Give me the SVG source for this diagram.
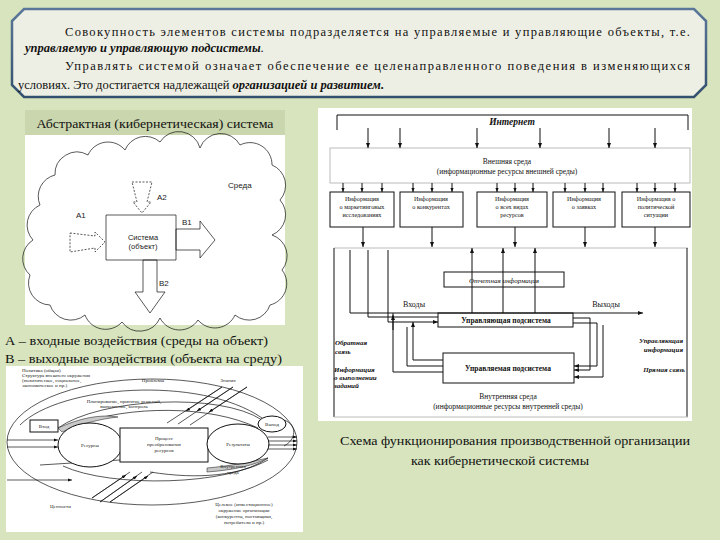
<svg xmlns="http://www.w3.org/2000/svg" width="720" height="540" viewBox="0 0 720 540">
<defs>
<style>
.s{font-family:"Liberation Serif","Times New Roman",serif;fill:#111}
.ss{font-family:"Liberation Sans",Arial,sans-serif;fill:#222}
.bi{font-weight:bold;font-style:italic}
.ln{stroke:#111;stroke-width:1;fill:none}
.lt{stroke:#111;stroke-width:0.7;fill:none}
.fa{stroke:#bbb;stroke-width:1;fill:none}
.box{fill:#fff;stroke:#111;stroke-width:1}
.tiny{font-family:"Liberation Serif",serif;font-size:5px;fill:#222}
</style>
<marker id="ah" viewBox="0 0 10 10" refX="10" refY="5" markerWidth="5" markerHeight="5" orient="auto" markerUnits="userSpaceOnUse"><path d="M0,1 L10,5 L0,9 z" fill="#111"/></marker>
<marker id="ahs" viewBox="0 0 10 10" refX="10" refY="5" markerWidth="4" markerHeight="4" orient="auto" markerUnits="userSpaceOnUse"><path d="M0,1 L10,5 L0,9 z" fill="#111"/></marker>
<linearGradient id="bd" x1="0" y1="0" x2="0" y2="1"><stop offset="0" stop-color="#5a7799"/><stop offset="1" stop-color="#34506f"/></linearGradient>
</defs>
<rect width="720" height="540" fill="#d7e4bd"/>

<g id="intro">
<polygon points="24,9 694,9 706,21 706,85 694,97 24,97 12,85 12,21" fill="#eeefe4" stroke="url(#bd)" stroke-width="2.5"/>
<text class="s" x="65" y="36" font-size="12.5" textLength="625" lengthAdjust="spacing">Совокупность элементов системы подразделяется на управляемые и управляющие объекты, т.е.</text>
<text class="s" x="25" y="52" font-size="12.5"><tspan class="bi">управляемую и управляющую подсистемы</tspan>.</text>
<text class="s" x="65" y="70" font-size="12.5" textLength="625" lengthAdjust="spacing">Управлять системой означает обеспечение ее целенаправленного поведения в изменяющихся</text>
<text class="s" x="18" y="89" font-size="12.5">условиях. Это достигается надлежащей <tspan class="bi">организацией и развитием.</tspan></text>
</g>

<g id="abstract-system">
<rect x="25" y="110" width="260" height="25" fill="#cad6ad"/>
<text class="s" x="155" y="128" font-size="13" text-anchor="middle" fill="#333" textLength="237" lengthAdjust="spacingAndGlyphs">Абстрактная (кибернетическая) система</text>
<rect x="25" y="135" width="260" height="190" fill="#fff"/>
<path class="lt" d="M33,240 A22,22 0 0 1 40,205 A22,22 0 0 1 55,175 A22,22 0 0 1 88,155 A22,22 0 0 1 125,150 A22,22 0 0 1 160,142 A22,22 0 0 1 200,148 A22,22 0 0 1 240,145 A22,22 0 0 1 272,165 A22,22 0 0 1 280,200 A22,22 0 0 1 272,235 A22,22 0 0 1 282,270 A22,22 0 0 1 270,305 A22,22 0 0 1 235,315 A22,22 0 0 1 198,320 A22,22 0 0 1 160,318 A22,22 0 0 1 122,322 A22,22 0 0 1 85,315 A22,22 0 0 1 50,305 A22,22 0 0 1 30,275 A22,22 0 0 1 33,240 Z"/>
<path class="lt" d="M106,215 L106,260 L176,260 L176,215 Z" fill="#fff"/>
<text class="ss" x="143" y="240" font-size="7.5" text-anchor="middle">Система</text>
<text class="ss" x="143" y="249" font-size="7.5" text-anchor="middle">(объект)</text>
<text class="ss" x="228" y="188" font-size="8">Среда</text>
<text class="ss" x="157" y="200" font-size="8">A2</text>
<text class="ss" x="76" y="218" font-size="8">A1</text>
<text class="ss" x="182" y="225" font-size="8">B1</text>
<text class="ss" x="159" y="286" font-size="8">B2</text>
<polygon class="lt" stroke-dasharray="2,1.5" points="132,182 152,182 147,202 151,202 142,213 133,202 137,202"/>
<polygon class="lt" stroke-dasharray="2,1.5" points="70,233 95,236 95,232 105,242 95,252 95,248 70,252"/>
<polygon class="lt" fill="#fff" points="176,229 200,229 200,221 215,240 200,258 200,250 176,250"/>
<polygon class="lt" fill="#fff" points="143,260 157,260 157,292 165,292 150,313 135,292 143,292"/>
</g>

<g id="legend">
<text class="s" x="5" y="345" font-size="13.5" textLength="263" lengthAdjust="spacingAndGlyphs">А – входные воздействия (среды на объект)</text>
<text class="s" x="5" y="363" font-size="13.5" textLength="277" lengthAdjust="spacingAndGlyphs">В – выходные воздействия (объекта на среду)</text>
</g>

<g id="organization-environment">
<rect x="6" y="366" width="297" height="166" fill="#fff"/>
<ellipse class="lt" cx="152" cy="442" rx="145" ry="63"/>
<path class="lt" d="M20,425 C60,385 200,375 262,418"/>
<path class="lt" d="M58,428 C100,398 220,392 262,420"/>
<path class="lt" d="M75,425 C130,405 210,405 258,428"/>
<path d="M58,428 C80,418 100,414 118,417 C100,419 80,424 62,432 Z" fill="#c8c8c8" stroke="#111" stroke-width="0.5"/>
<path class="lt" d="M63,466 C110,488 230,486 268,458"/>
<path class="lt" d="M40,465 L120,460"/>
<path class="lt" d="M150,472 C200,480 240,475 268,460"/>
<path d="M207,468 C230,466 250,462 268,458 C255,465 235,470 207,472 Z" fill="#c8c8c8" stroke="#111" stroke-width="0.5"/>
<rect x="30" y="420" width="28" height="12" class="box" stroke-width="0.7"/>
<text class="tiny" x="44" y="428" text-anchor="middle">Вход</text>
<ellipse cx="90" cy="445" rx="32" ry="22" class="box" stroke-width="0.7"/>
<text class="tiny" x="90" y="447" text-anchor="middle">Ресурсы</text>
<rect x="120" y="428" width="88" height="34" class="box" stroke-width="0.7"/>
<text class="tiny" x="164" y="440" text-anchor="middle">Процесс</text>
<text class="tiny" x="164" y="446" text-anchor="middle">преобразования</text>
<text class="tiny" x="164" y="452" text-anchor="middle">ресурсов</text>
<ellipse cx="238" cy="444" rx="31" ry="20" class="box" stroke-width="0.7"/>
<text class="tiny" x="238" y="446" text-anchor="middle">Результаты</text>
<ellipse cx="272" cy="424" rx="14" ry="8" class="box" stroke-width="0.7"/>
<text class="tiny" x="272" y="426" text-anchor="middle">Выход</text>
<path class="lt" d="M284,420 C298,425 296,440 284,446"/>
<line class="lt" x1="7" y1="440" x2="58" y2="440" marker-end="url(#ahs)"/>
<line class="lt" x1="7" y1="447" x2="58" y2="447" marker-end="url(#ahs)"/>
<line class="lt" x1="7" y1="480" x2="72" y2="480" marker-end="url(#ahs)"/>
<line class="lt" x1="268" y1="437" x2="297" y2="437" marker-end="url(#ahs)"/>
<line class="lt" x1="268" y1="441" x2="297" y2="441" marker-end="url(#ahs)"/>
<line class="lt" x1="268" y1="445" x2="297" y2="445" marker-end="url(#ahs)"/>
<line class="lt" x1="268" y1="449" x2="297" y2="449" marker-end="url(#ahs)"/>
<line class="lt" x1="222" y1="387" x2="167" y2="423"/>
<line class="lt" x1="233" y1="387" x2="178" y2="424"/>
<line class="lt" x1="247" y1="387" x2="190" y2="425"/>
<line class="lt" x1="222" y1="387" x2="186" y2="411" marker-end="url(#ahs)"/>
<line class="lt" x1="233" y1="387" x2="197" y2="411" marker-end="url(#ahs)"/>
<line class="lt" x1="247" y1="387" x2="209" y2="412" marker-end="url(#ahs)"/>
<line class="lt" x1="92" y1="498" x2="130" y2="472"/>
<line class="lt" x1="100" y1="502" x2="142" y2="472"/>
<line class="lt" x1="110" y1="502" x2="153" y2="472"/>
<line class="lt" x1="92" y1="498" x2="126" y2="475" marker-end="url(#ahs)"/>
<line class="lt" x1="100" y1="502" x2="137" y2="476" marker-end="url(#ahs)"/>
<line class="lt" x1="110" y1="502" x2="148" y2="476" marker-end="url(#ahs)"/>
<text class="tiny" x="22" y="372">Политика (общая)</text>
<text class="tiny" x="22" y="377">Структура внешнего окружения</text>
<text class="tiny" x="22" y="382">(политическое, социальное,</text>
<text class="tiny" x="22" y="387">экономическое и пр.)</text>
<text class="tiny" x="153" y="382" text-anchor="middle">Проблемы</text>
<text class="tiny" x="228" y="382" text-anchor="middle">Знания</text>
<text class="tiny" x="124" y="403" text-anchor="middle">Планирование, принятие решений,</text>
<text class="tiny" x="124" y="408" text-anchor="middle">выполнение, контроль</text>
<text class="tiny" x="233" y="468" text-anchor="middle">Внутренняя</text>
<text class="tiny" x="233" y="474" text-anchor="middle">среда</text>
<text class="tiny" x="50" y="508">Ценности</text>
<text class="tiny" x="244" y="506" text-anchor="middle">Целевое (инвестиционное)</text>
<text class="tiny" x="244" y="512" text-anchor="middle">окружение организации</text>
<text class="tiny" x="244" y="518" text-anchor="middle">(конкуренты, поставщики,</text>
<text class="tiny" x="244" y="524" text-anchor="middle">потребители и пр.)</text>
</g>

<g id="org-scheme">
<rect x="318" y="108" width="374" height="313" fill="#fff"/>
<g id="internet">
<line class="ln" x1="337" y1="115" x2="688" y2="115"/>
<line class="ln" x1="337" y1="115" x2="337" y2="130"/>
<line class="ln" x1="688" y1="115" x2="688" y2="130"/>
<text class="s bi" x="512" y="125" font-size="9.5" text-anchor="middle">Интернет</text>
</g>
<g id="external-env">
<rect x="330" y="148" width="360" height="35" class="fa"/>
<text class="s" x="507" y="164" font-size="7.5" text-anchor="middle">Внешняя среда</text>
<text class="s" x="507" y="174" font-size="7.5" text-anchor="middle">(информационные ресурсы внешней среды)</text>
</g>
<g id="info1"><rect x="330" y="192" width="64" height="35" class="box"/><text class="s" font-size="6.2" text-anchor="middle"><tspan x="362" y="201">Информация</tspan><tspan x="362" y="209">о маркетинговых</tspan><tspan x="362" y="217">исследованиях</tspan></text></g>
<g id="info2"><rect x="400" y="192" width="63" height="35" class="box"/><text class="s" font-size="6.2" text-anchor="middle"><tspan x="431" y="201">Информация</tspan><tspan x="431" y="209">о конкурентах</tspan></text></g>
<g id="info3"><rect x="477" y="192" width="70" height="35" class="box"/><text class="s" font-size="6.2" text-anchor="middle"><tspan x="512" y="201">Информация</tspan><tspan x="512" y="209">о всех видах</tspan><tspan x="512" y="217">ресурсов</tspan></text></g>
<g id="info4"><rect x="553" y="192" width="62" height="35" class="box"/><text class="s" font-size="6.2" text-anchor="middle"><tspan x="584" y="201">Информация</tspan><tspan x="584" y="209">о заявках</tspan></text></g>
<g id="info5"><rect x="622" y="192" width="68" height="35" class="box"/><text class="s" font-size="6.2" text-anchor="middle"><tspan x="656" y="201">Информация о</tspan><tspan x="656" y="209">политической</tspan><tspan x="656" y="217">ситуации</tspan></text></g>
<g id="report"><rect x="444" y="272" width="120" height="15" class="box"/><text class="s" x="504" y="283" font-size="7" font-style="italic" text-anchor="middle">Отчетная информация</text></g>
<g id="control-sub"><rect x="438" y="313" width="135" height="14" class="box" stroke-width="1.3"/><text class="s" x="506" y="323" font-size="7.5" font-weight="bold" text-anchor="middle">Управляющая подсистема</text></g>
<g id="managed-sub"><rect x="443" y="353" width="131" height="30" class="box" stroke-width="1.5"/><text class="s" x="508" y="371" font-size="7.5" font-weight="bold" text-anchor="middle">Управляемая подсистема</text></g>
<g id="connectors">
<line class="ln" x1="368" y1="128" x2="368" y2="148" marker-end="url(#ah)"/>
<line class="ln" x1="400" y1="128" x2="400" y2="148" marker-end="url(#ah)"/>
<line class="ln" x1="477" y1="128" x2="477" y2="148" marker-end="url(#ah)"/>
<line class="ln" x1="540" y1="128" x2="540" y2="148" marker-end="url(#ah)"/>
<line class="ln" x1="609" y1="128" x2="609" y2="148" marker-end="url(#ah)"/>
<line class="ln" x1="655" y1="128" x2="655" y2="148" marker-end="url(#ah)"/>
<g marker-end="url(#ahs)">
<line class="ln" x1="343" y1="183" x2="343" y2="192"/><line class="ln" x1="362" y1="183" x2="362" y2="192"/><line class="ln" x1="382" y1="183" x2="382" y2="192"/>
<line class="ln" x1="413" y1="183" x2="413" y2="192"/><line class="ln" x1="432" y1="183" x2="432" y2="192"/><line class="ln" x1="452" y1="183" x2="452" y2="192"/>
<line class="ln" x1="497" y1="183" x2="497" y2="192"/><line class="ln" x1="515" y1="183" x2="515" y2="192"/><line class="ln" x1="533" y1="183" x2="533" y2="192"/>
<line class="ln" x1="565" y1="183" x2="565" y2="192"/><line class="ln" x1="585" y1="183" x2="585" y2="192"/><line class="ln" x1="603" y1="183" x2="603" y2="192"/>
<line class="ln" x1="637" y1="183" x2="637" y2="192"/><line class="ln" x1="655" y1="183" x2="655" y2="192"/><line class="ln" x1="675" y1="183" x2="675" y2="192"/>
</g>
<line class="ln" x1="363" y1="227" x2="363" y2="247" marker-end="url(#ah)"/>
<line class="ln" x1="432" y1="227" x2="432" y2="247" marker-end="url(#ah)"/>
<line class="ln" x1="515" y1="227" x2="515" y2="247" marker-end="url(#ah)"/>
<line class="ln" x1="585" y1="227" x2="585" y2="247" marker-end="url(#ah)"/>
<line class="ln" x1="655" y1="227" x2="655" y2="247" marker-end="url(#ah)"/>
<line class="fa" x1="334" y1="248" x2="688" y2="248"/>
<line class="ln" x1="334" y1="248" x2="334" y2="417"/>
<line class="ln" x1="687" y1="248" x2="687" y2="417"/>
<line class="fa" x1="334" y1="417" x2="688" y2="417"/>
<line class="ln" x1="472" y1="313" x2="472" y2="248" marker-end="url(#ah)"/>
<line class="ln" x1="503" y1="313" x2="503" y2="248" marker-end="url(#ah)"/>
<line class="ln" x1="535" y1="313" x2="535" y2="248" marker-end="url(#ah)"/>
<polyline class="ln" points="350,250 350,313 643,313" marker-end="url(#ah)"/>
<polyline class="ln" points="368,250 368,317 438,317"/>
<polyline class="ln" points="388,250 388,322 438,322" marker-end="url(#ah)"/>
<polyline class="ln" points="443,372 393,372 393,313"/>
<line class="ln" x1="393" y1="330" x2="393" y2="315" marker-end="url(#ah)"/>
<polyline class="ln" points="443,366 407,366 407,327"/>
<polyline class="ln" points="443,360 413,360 413,322" marker-end="url(#ah)"/>
<polyline class="ln" points="573,318 590,318 590,370 574,370" marker-end="url(#ah)"/>
<polyline class="ln" points="573,323 597,323 597,366 574,366" marker-end="url(#ah)"/>
<polyline class="ln" points="603,325 603,377 574,377" marker-end="url(#ah)"/>
</g>
<g id="labels">
<text class="s" x="414" y="307" font-size="8" text-anchor="middle">Входы</text>
<text class="s" x="606" y="307" font-size="8" text-anchor="middle">Выходы</text>
<text class="s bi" x="335" y="345" font-size="7">Обратная</text>
<text class="s bi" x="335" y="354" font-size="7">связь</text>
<text class="s bi" x="334" y="372" font-size="7">Информация</text>
<text class="s bi" x="334" y="380" font-size="7">о выполнении</text>
<text class="s bi" x="334" y="388" font-size="7">заданий</text>
<text class="s bi" x="683" y="343" font-size="7" text-anchor="end">Управляющая</text>
<text class="s bi" x="683" y="352" font-size="7" text-anchor="end">информация</text>
<text class="s bi" x="685" y="372" font-size="7" text-anchor="end">Прямая связь</text>
<text class="s" x="508" y="399" font-size="7.5" text-anchor="middle">Внутренняя среда</text>
<text class="s" x="508" y="409" font-size="7.5" text-anchor="middle">(информационные ресурсы внутренней среды)</text>
</g>
</g>

<g id="caption">
<text class="s" x="515" y="445" font-size="13" text-anchor="middle" textLength="350" lengthAdjust="spacingAndGlyphs">Схема функционирования производственной организации</text>
<text class="s" x="500" y="465" font-size="13" text-anchor="middle" textLength="178" lengthAdjust="spacingAndGlyphs">как кибернетической системы</text>
</g>
</svg>
